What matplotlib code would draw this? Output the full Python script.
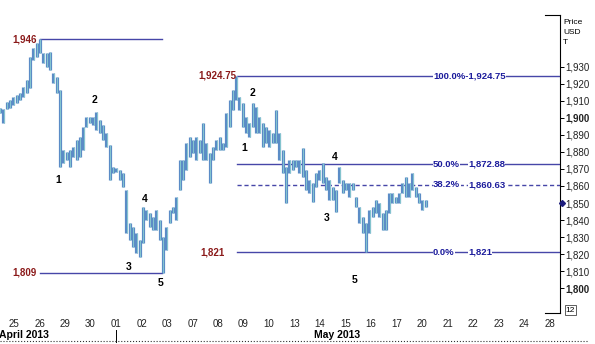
import numpy as np
import matplotlib
matplotlib.use("Agg")
import matplotlib.pyplot as plt
import matplotlib.transforms as mtransforms
from matplotlib.lines import Line2D

plt.rcParams['font.family'] = ['Liberation Sans', 'DejaVu Sans']

# trading days shown on the axis (Apr 25 .. May 28 2013)
day_labels = ["25", "26", "29", "30", "01", "02", "03", "07", "08", "09", "10",
              "13", "14", "15", "16", "17", "20", "21", "22", "23", "24", "28"]

# 3-hour bars (high / low, USD)
bar_high = [1906, 1905, 1909, 1910.5, 1912, 1913.5, 1914.5, 1918, 1922, 1935.5,
            1941, 1944, 1946, 1938, 1938, 1938.5, 1926.5, 1924, 1916.5, 1881,
            1880, 1881, 1883, 1887, 1889, 1894.5, 1900.5, 1900.5, 1900.5, 1903.5,
            1898.5, 1896, 1891, 1884, 1871, 1870.5, 1869.5, 1867.5, 1857.5, 1838.5,
            1836, 1832.5, 1828.5, 1847.5, 1846, 1844, 1842, 1846, 1840, 1830,
            1836, 1846, 1847.5, 1853.5, 1875.5, 1875.5, 1885, 1889, 1887, 1889,
            1887, 1897, 1885, 1879.5, 1883, 1887, 1889, 1885, 1903, 1910.5,
            1916.5, 1924.75, 1912, 1908.5, 1900.5, 1897, 1908.5, 1906.5, 1900.5, 1897,
            1894.5, 1893, 1891, 1904.5, 1891, 1881, 1871, 1875.5, 1875.5, 1875.5,
            1875.5, 1882, 1869.5, 1863.5, 1862, 1867.5, 1869.5, 1873.5, 1865.5, 1863.5,
            1859.5, 1857.5, 1871, 1863.5, 1862, 1862, 1862, 1853.5, 1847.5, 1842,
            1838.5, 1846, 1847.5, 1852, 1850, 1844, 1846, 1856, 1856, 1853.5,
            1856, 1862, 1865.5, 1862, 1867.5, 1859.5, 1856, 1852, 1852]
bar_low = [1903, 1897, 1905, 1906, 1907.5, 1908.5, 1910.5, 1912, 1914.5, 1917.5,
           1934, 1935.5, 1938, 1932, 1930, 1928, 1920.5, 1914.5, 1871, 1873.5,
           1875.5, 1871, 1877, 1875.5, 1877, 1881, 1894.5, 1897, 1896, 1893,
           1891, 1887, 1883, 1863.5, 1867.5, 1868, 1863.5, 1859.5, 1832.5, 1828.5,
           1824, 1820.5, 1818.5, 1826.5, 1840, 1836, 1834, 1834, 1828.5, 1809,
           1822.5, 1838.5, 1844, 1840, 1857.5, 1863.5, 1869.5, 1877, 1879.5, 1875.5,
           1879.5, 1875.5, 1875.5, 1862, 1875.5, 1881, 1881, 1881, 1883, 1894.5,
           1904.5, 1910.5, 1904.5, 1894.5, 1891, 1889, 1894.5, 1891, 1891, 1883,
           1885, 1883, 1885, 1885, 1875.5, 1867.5, 1850, 1867.5, 1869.5, 1871,
           1867.5, 1865, 1857.5, 1856, 1850.5, 1859.5, 1863.5, 1862, 1857.5, 1852,
           1852, 1845, 1862, 1856, 1857.5, 1853.5, 1857.5, 1847.5, 1838.5, 1832.5,
           1821, 1832.5, 1842, 1844, 1842, 1834, 1834, 1844, 1850, 1850,
           1850, 1856, 1853.5, 1853.5, 1857.5, 1853.5, 1850, 1846, 1847.5]

first_bar = -0.55          # position of the first bar, in trading days
bars_per_day = 23 / 3      # 3-hour bars, ~23 trading hours a day

# Fibonacci / swing levels
left_levels = [1946, 1809]
fib_pct = ["100.0%", "50.0%", "38.2%", "0.0%"]
fib_vals = [1924.75, 1872.88, 1860.63, 1821]

# Elliott wave counts (label, day position, price)
wave_a = [("1", 1.73, 1863.5), ("2", 3.14, 1910.5), ("3", 4.51, 1812.5),
          ("4", 5.14, 1852.4), ("5", 5.73, 1803)]
wave_b = [("1", 9.02, 1882.3), ("2", 9.37, 1914.6), ("3", 12.24, 1841.3),
          ("4", 12.59, 1877), ("5", 13.37, 1805)]

yticks = list(range(1800, 1931, 10))

W, H = 595, 344
fig = plt.figure(figsize=(W / 100, H / 100), dpi=100)
ax = fig.add_axes([0, 1 - 313 / H, 560 / W, (313 - 15) / H])

xmin, xmax = -0.55, 21.41
ax.set_xlim(xmin, xmax)
ax.set_ylim(1785.5, 1960.3)

t = first_bar + np.arange(len(bar_high)) / bars_per_day
ax.vlines(t, bar_low, bar_high, colors="#5b8cc6", lw=2.3, zorder=3)
ax.vlines(t + 0.015, bar_low, bar_high, colors="#86c6cf", lw=0.7, zorder=3)

line_c = "#4646a8"
red_c = "#8b1a1a"
blue_txt = "#1c1c9c"

# left swing lines
for lv in left_levels:
    ax.plot([1.02, 5.80], [lv, lv], color=line_c, lw=1, zorder=2)
    ax.text(0.9, lv, f"{lv:,}", color=red_c, fontsize=7, fontweight="bold",
            ha="right", va="center")

# fib lines on the right
for pct, val in zip(fib_pct, fib_vals):
    ls = (0, (3, 2)) if pct == "38.2%" else "-"
    ax.plot([8.75, xmax], [val, val], color=line_c, lw=1, ls=ls, zorder=2)
    sval = f"{val:,.0f}" if val == int(val) else f"{val:,.2f}"
    box = dict(facecolor="white", edgecolor="none", pad=0.3)
    if pct == "100.0%":
        ax.text(16.43, val, f"{pct}-{sval}", color=blue_txt, fontsize=6.8,
                fontweight="bold", ha="left", va="center", bbox=box, zorder=4)
    else:
        ax.text(16.43, val, pct, color=blue_txt, fontsize=6.8, fontweight="bold",
                ha="left", va="center", bbox=box, zorder=4)
        ax.text(17.80, val, sval, color=blue_txt, fontsize=6.8, fontweight="bold",
                ha="left", va="center", bbox=box, zorder=4)

ax.text(8.72, fib_vals[0], "1,924.75", color=red_c, fontsize=7, fontweight="bold",
        ha="right", va="center")
ax.text(8.27, fib_vals[3], "1,821", color=red_c, fontsize=7, fontweight="bold",
        ha="right", va="center")

for lab, x, y in wave_a + wave_b:
    ax.text(x, y, lab, fontsize=7.5, fontweight="bold", ha="center", va="center")

# axes styling
for s in ["left", "top", "bottom"]:
    ax.spines[s].set_visible(False)
ax.spines["right"].set_linewidth(0.8)
ax.yaxis.tick_right()
ax.set_yticks(yticks)
ax.set_yticklabels([f"{v:,}" for v in yticks])
ax.tick_params(axis="y", direction="out", length=3, width=0.7, pad=1,
               labelsize=7, labelcolor="#222222")
for v, lab in zip(yticks, ax.get_yticklabels()):
    if v in (1800, 1900):
        lab.set_fontweight("bold")

ax.set_xticks(range(len(day_labels)))
ax.set_xticklabels(day_labels)
ax.tick_params(axis="x", length=0, pad=4, labelsize=7, labelcolor="#222222")

# current price marker
trans = mtransforms.blended_transform_factory(ax.transAxes, ax.transData)
ax.plot([1.004], [1850], marker="D", ms=3, color="#1c1c7c", transform=trans,
        clip_on=False, zorder=5)

# bracket ends of the price axis
for yy in (15, 313):
    fig.add_artist(Line2D([545 / W, 560 / W], [1 - yy / H, 1 - yy / H],
                          color="black", lw=0.8))

fig.text(563 / W, 1 - 22 / H, "Price", fontsize=6, va="center")
fig.text(563 / W, 1 - 33 / H, "USD", fontsize=6, va="center")
fig.text(563 / W, 1 - 43 / H, "T", fontsize=6, va="center")
fig.text(570.5 / W, 1 - 310 / H, "12", fontsize=6, ha="center", va="center",
         bbox=dict(facecolor="white", edgecolor="#444444", lw=0.6, pad=0.8))

# month row
fig.text(49 / W, 1 - 335 / H, "April 2013", fontsize=7.5, fontweight="bold",
         ha="right", va="center")
fig.text(337 / W, 1 - 335 / H, "May 2013", fontsize=7.5, fontweight="bold",
         ha="center", va="center")
fig.add_artist(Line2D([116 / W, 116 / W], [1 - 342 / H, 1 - 330 / H],
                      color="black", lw=0.7))
fig.add_artist(Line2D([0, 588 / W], [1 - 341 / H, 1 - 341 / H],
                      color="#333333", lw=0.8, ls=":"))

fig.savefig("out.png", dpi=100)
